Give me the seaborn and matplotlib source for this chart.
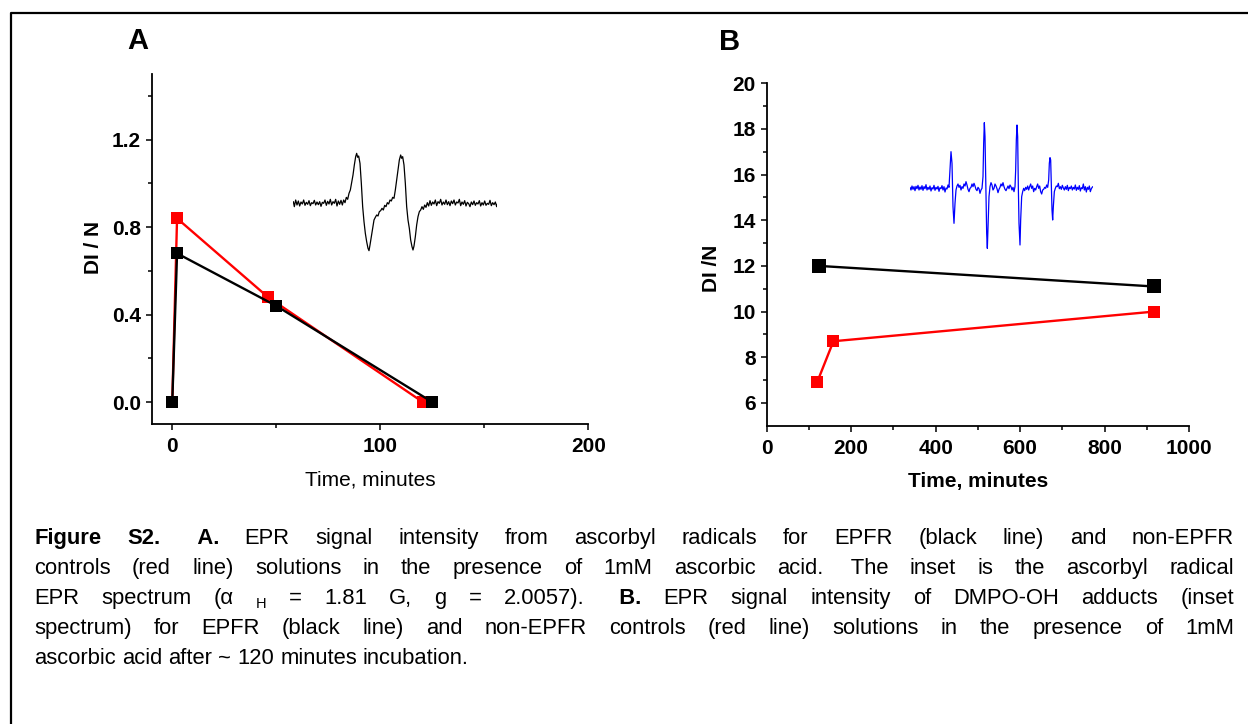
import matplotlib
matplotlib.use("Agg")
import matplotlib.pyplot as plt
import seaborn as sns
from matplotlib.lines import Line2D

# ---------------- data ----------------
a_time_black = [0, 2.3, 50, 125]
a_di_black = [0.0, 0.68, 0.44, 0.0]
a_time_red = [0, 2.3, 46, 120.5]
a_di_red = [0.0, 0.84, 0.48, 0.0]

b_time_black = [124, 916]
b_di_black = [12.0, 11.1]
b_time_red = [120, 158, 918]
b_di_red = [6.93, 8.70, 10.0]

a_xticks = [0, 100, 200]
a_xminor = [50, 150]
a_yticks = [0.0, 0.4, 0.8, 1.2]
a_yminor = [0.2, 0.6, 1.0, 1.4]
b_xticks = [0, 200, 400, 600, 800, 1000]
b_xminor = [100, 300, 500, 700, 900]
b_yticks = [6, 8, 10, 12, 14, 16, 18, 20]
b_yminor = [7, 9, 11, 13, 15, 17, 19]

# inset spectra: (field position, deflection) (deflection downward positive)
inset_a_trace = [
    (40,185),(43,200),(47,180),(51,195),(55,183),(59,198),(63,186),(67,192),(71,180),(75,196),
    (79,187),(83,193),(87,182),(91,197),(95,188),(99,191),(103,181),(107,195),(111,186),(115,194),
    (119,185),(123,199),(127,187),(131,190),(135,180),(139,196),(143,184),(147,192),(151,178),(155,195),
    (159,185),(163,190),(167,178),(171,198),(175,183),(179,193),(183,181),(187,195),(191,180),(195,188),
    (199,172),(203,178),(207,160),(211,150),(215,128),(219,105),(223,75),(227,50),(230,40),(233,52),
    (236,48),(240,70),(244,130),(248,200),(252,245),(256,280),(260,305),(264,325),(267,332),(270,315),
    (274,290),(278,265),(282,240),(286,232),(290,225),(294,228),(298,215),(302,212),(306,205),(310,210),
    (314,196),(318,200),(322,188),(326,192),(330,180),(334,183),(338,172),(342,175),(346,150),(350,120),
    (354,90),(358,60),(362,45),(365,55),(368,50),(372,75),(376,130),(380,200),(384,240),(388,265),
    (392,300),(396,320),(399,330),(402,318),(406,290),(410,255),(414,230),(418,215),(422,210),(426,200),
    (430,208),(434,195),(438,202),(442,188),(446,198),(450,182),(454,196),(458,186),(462,192),(466,180),
    (470,197),(474,185),(478,190),(482,178),(486,195),(490,186),(494,193),(498,180),(502,194),(506,185),
    (510,197),(514,183),(518,191),(522,180),(526,195),(530,186),(534,189),(538,178),(542,197),(546,186),
    (550,193),(554,182),(558,198),(562,187),(566,191),(570,200),(574,186),(578,194),(582,183),(586,196),
    (590,188),(594,192),(598,182),(602,198),(606,188),(610,195),(614,183),(618,196),(622,190),(626,193),
    (630,181),(634,197),(638,188),(642,194),(646,186),(650,200),(652,192),
]
inset_b_trace = [
    (60,232),(63,240),(66,228),(69,238),(72,230),(75,242),(78,229),(81,236),(84,226),(87,240),
    (90,231),(93,238),(96,227),(99,241),(102,230),(105,236),(108,224),(111,240),(114,232),(117,238),
    (120,228),(123,243),(126,233),(129,237),(132,226),(135,241),(138,232),(141,237),(144,229),(147,244),
    (150,233),(153,236),(156,227),(159,240),(162,230),(165,246),(168,234),(171,237),(174,225),(177,232),
    (180,180),(183,125),(186,160),(189,290),(192,340),(195,280),(198,240),(201,228),(204,222),(207,232),
    (210,226),(213,240),(216,230),(219,235),(222,222),(225,228),(228,215),(231,225),(234,238),(237,245),
    (240,235),(243,232),(246,222),(249,230),(252,220),(255,228),(258,238),(261,242),(264,232),(267,236),
    (270,250),(273,240),(276,235),(279,200),(281,100),(283,38),(285,80),(288,250),(290,370),(292,415),
    (294,350),(297,260),(300,230),(303,218),(306,225),(309,240),(312,235),(315,222),(318,228),(321,236),
    (324,248),(327,238),(330,232),(333,222),(336,228),(339,218),(342,230),(345,238),(348,242),(351,235),
    (354,228),(357,236),(360,225),(363,230),(366,240),(369,232),(372,245),(375,230),(377,180),(379,90),
    (381,45),(383,80),(385,230),(387,340),(390,405),(392,330),(395,260),(398,245),(401,235),(404,242),
    (407,232),(410,238),(413,228),(416,240),(419,230),(422,222),(425,235),(428,228),(431,245),(434,235),
    (437,240),(440,230),(443,222),(446,235),(449,228),(452,245),(455,252),(458,240),(461,238),(464,232),
    (467,235),(470,225),(473,232),(476,210),(478,160),(480,143),(482,150),(484,230),(486,300),(488,330),
    (490,290),(493,245),(496,235),(499,228),(502,230),(505,220),(508,236),(511,230),(514,238),(517,226),
    (520,234),(523,240),(526,230),(529,238),(532,226),(535,242),(538,232),(541,236),(544,228),(547,240),
    (550,232),(553,237),(556,225),(559,241),(562,232),(565,238),(568,227),(571,243),(574,233),(577,236),
    (580,222),(583,240),(586,230),(589,246),(592,232),(595,238),(598,228),(601,245),(604,236),(608,230),
]

caption_lines = [
    "Figure S2.   A. EPR signal intensity from ascorbyl radicals for EPFR (black line) and non-EPFR",
    "controls (red line) solutions in the presence of 1mM ascorbic acid.  The inset is the ascorbyl radical",
    "EPR spectrum (\u03b1 H = 1.81 G, g = 2.0057).   B. EPR signal intensity of DMPO-OH adducts (inset",
    "spectrum) for EPFR (black line) and non-EPFR controls (red line) solutions in the presence of 1mM",
    "ascorbic acid after ~ 120 minutes incubation.",
]

# ---------------- style ----------------
sns.set_style("ticks")
plt.rcParams["font.family"] = ["Liberation Sans", "DejaVu Sans"]
plt.rcParams["text.color"] = "black"
plt.rcParams["axes.labelcolor"] = "black"
plt.rcParams["xtick.color"] = "black"
plt.rcParams["ytick.color"] = "black"

W, H = 1248, 724
fig = plt.figure(figsize=(W / 100, H / 100), dpi=100)
fig.patch.set_facecolor("white")


def rect(l, t, r, b):
    return [l / W, 1 - b / H, (r - l) / W, (b - t) / H]


RED = "#ff0000"
TICK_FS = 15
axA = fig.add_axes(rect(152.3, 74, 588.3, 424))
axB = fig.add_axes(rect(766.7, 83.3, 1189, 425.7))

# panel A
sns.lineplot(x=a_time_red, y=a_di_red, ax=axA, color=RED, marker="s", markersize=8,
             markeredgecolor=RED, markeredgewidth=0, linewidth=1.7, sort=False, estimator=None)
sns.lineplot(x=a_time_black, y=a_di_black, ax=axA, color="black", marker="s", markersize=8,
             markeredgecolor="black", markeredgewidth=0, linewidth=1.7, sort=False, estimator=None)
axA.set_xlim(-9.6, 200)
axA.set_ylim(-0.1, 1.5)
axA.set_xticks(a_xticks, [f"{v:g}" for v in a_xticks], fontweight="bold", fontsize=TICK_FS)
axA.set_yticks(a_yticks, [f"{v:.1f}" for v in a_yticks], fontweight="bold", fontsize=TICK_FS)
axA.set_xticks(a_xminor, minor=True)
axA.set_yticks(a_yminor, minor=True)
axA.set_xlabel("Time, minutes", fontsize=15, va="center")
axA.set_ylabel("DI / N", fontsize=15, fontweight="bold", va="center")
axA.xaxis.set_label_coords(0.5, -0.16)
axA.yaxis.set_label_coords(-0.136, 0.503)

# panel B
sns.lineplot(x=b_time_black, y=b_di_black, ax=axB, color="black", marker="s", markersize=9.5,
             markeredgecolor="black", markeredgewidth=0, linewidth=1.7, sort=False, estimator=None)
sns.lineplot(x=b_time_red, y=b_di_red, ax=axB, color=RED, marker="s", markersize=8,
             markeredgecolor=RED, markeredgewidth=0, linewidth=1.7, sort=False, estimator=None)
axB.set_xlim(0, 1000)
axB.set_ylim(5, 20)
axB.set_xticks(b_xticks, [f"{v:d}" for v in b_xticks], fontweight="bold", fontsize=TICK_FS)
axB.set_yticks(b_yticks, [f"{v:d}" for v in b_yticks], fontweight="bold", fontsize=TICK_FS)
axB.set_xticks(b_xminor, minor=True)
axB.set_yticks(b_yminor, minor=True)
axB.set_xlabel("Time, minutes", fontsize=15, fontweight="bold", va="center")
axB.set_ylabel("DI /N", fontsize=15, fontweight="bold", va="center")
axB.xaxis.set_label_coords(0.5, -0.164)
axB.yaxis.set_label_coords(-0.13, 0.46)

for ax in (axA, axB):
    sns.despine(ax=ax)
    ax.set_facecolor("white")
    for s in ("left", "bottom"):
        ax.spines[s].set_linewidth(1.3)
        ax.spines[s].set_color("black")
    ax.tick_params(which="major", direction="out", length=4.5, width=1.1, color="black")
    ax.tick_params(which="minor", direction="out", length=3, width=1.1, color="black")
    ax.tick_params(axis="y", which="major", pad=3.5)
    ax.tick_params(axis="x", which="major", pad=5)

# insets (EPR spectra)
insA = fig.add_axes(rect(280 + 40 / 3, 140 + 35 / 3, 280 + 652 / 3, 140 + 338 / 3))
xa, ya = zip(*inset_a_trace)
sns.lineplot(x=list(xa), y=list(ya), ax=insA, color="black", linewidth=0.9, sort=False, estimator=None)
insA.set_xlim(40, 652)
insA.set_ylim(338, 35)
insA.axis("off")

insB = fig.add_axes(rect(890 + 60 / 3, 110 + 35 / 3, 890 + 608 / 3, 110 + 418 / 3))
xb, yb = zip(*inset_b_trace)
sns.lineplot(x=list(xb), y=list(yb), ax=insB, color="#0000ff", linewidth=0.9, sort=False, estimator=None)
insB.set_xlim(60, 608)
insB.set_ylim(418, 35)
insB.axis("off")

# panel letters
fig.text(137.5 / W, 1 - 41 / H, "A", fontsize=21, fontweight="bold", ha="center", va="center")
fig.text(730 / W, 1 - 42 / H, "B", fontsize=21, fontweight="bold", ha="center", va="center")

# frame lines
fig.add_artist(Line2D([11 / W, 11 / W, 1.0], [0.0, 1 - 12.7 / H, 1 - 12.7 / H],
                      transform=fig.transFigure, color="black", linewidth=1.6))


# ---------------- caption (justified) ----------------
def tokens_for(i, line):
    toks = []
    out = []
    lead = 0
    for w in line.split(" "):
        if w == "":
            lead += 1
            continue
        out.append((" " * lead + w) if lead else w)
        lead = 0
    for j, w in enumerate(out):
        style = "r"
        if i == 0 and j in (0, 1, 2):
            style = "b"
        if i == 2 and w.strip() == "B.":
            style = "b"
        if i == 2 and w == "H":
            style = "sub"
        toks.append((w, style))
    return toks


renderer = fig.canvas.get_renderer()
cap_left, cap_right = 34, 1234
cap_size = 15.8
probe = fig.text(0, 0, "a a", fontsize=cap_size)
probe2 = fig.text(0, 0, "aa", fontsize=cap_size)
space_w = probe.get_window_extent(renderer).width - probe2.get_window_extent(renderer).width
probe.remove()
probe2.remove()

for i, line in enumerate(caption_lines):
    base = 544 + 30 * i
    toks = tokens_for(i, line)
    objs = []
    for w, style in toks:
        kw = dict(fontsize=cap_size, va="baseline", ha="left", color="black")
        dy = 0
        if style == "b":
            kw["fontweight"] = "bold"
        if style == "sub":
            kw["fontsize"] = 10.5
            dy = 4
        t = fig.text(0, 1 - (base + dy) / H, w, **kw)
        objs.append(t)
    widths = [t.get_window_extent(renderer).width for t in objs]
    if i < len(caption_lines) - 1:
        gap = (cap_right - cap_left - sum(widths)) / (len(objs) - 1)
    else:
        gap = space_w
    x = cap_left
    for t, wd in zip(objs, widths):
        t.set_x(x / W)
        x += wd + gap

fig.savefig("out.png", dpi=100, facecolor="white")
